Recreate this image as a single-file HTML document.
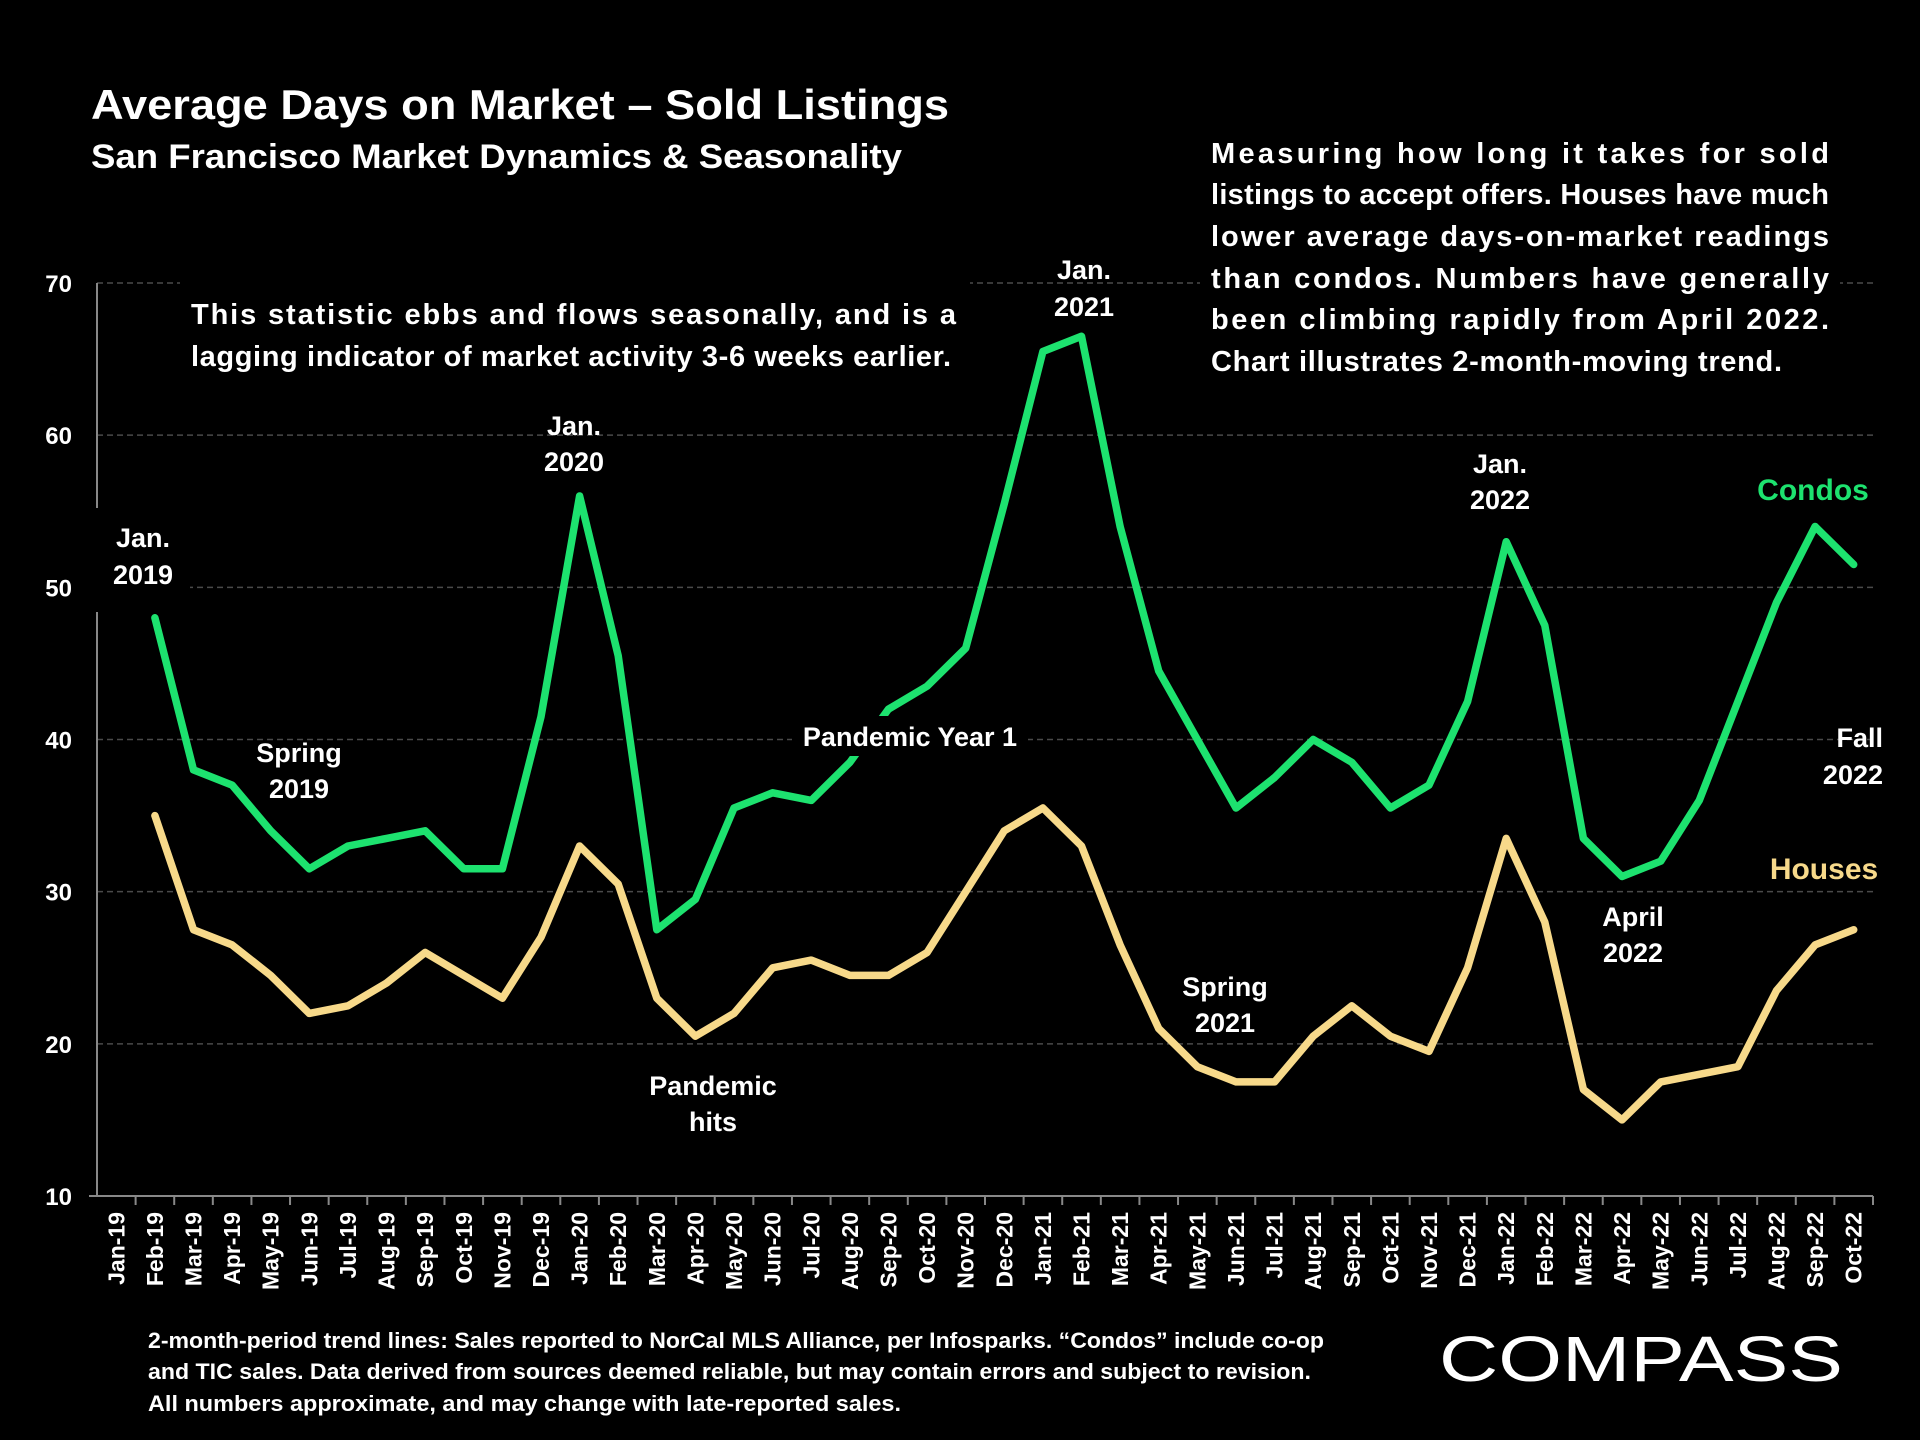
<!DOCTYPE html>
<html><head><meta charset="utf-8"><style>
html,body{margin:0;padding:0;background:#000;}
svg{display:block;}
text{font-family:"Liberation Sans",sans-serif;font-weight:bold;fill:#fff;}
</style></head><body>
<svg id="chart" width="1920" height="1440" viewBox="0 0 1920 1440">
<rect x="0" y="0" width="1920" height="1440" fill="#000"/>
<text x="91" y="119" font-size="42" textLength="858" lengthAdjust="spacingAndGlyphs">Average Days on Market – Sold Listings</text>
<text x="91" y="168" font-size="34" textLength="811" lengthAdjust="spacingAndGlyphs">San Francisco Market Dynamics &amp; Seasonality</text>
<g id="grid"></g>
<g id="axes"></g>
<g id="series"></g>
<rect x="1200" y="270" width="640" height="40" fill="#000"/>
<rect x="180" y="270" width="790" height="40" fill="#000"/>
<g font-size="29">
<text x="1211" y="163" textLength="618" lengthAdjust="spacing">Measuring how long it takes for sold</text>
<text x="1211" y="204" textLength="618" lengthAdjust="spacing">listings to accept offers. Houses have much</text>
<text x="1211" y="246" textLength="618" lengthAdjust="spacing">lower average days-on-market readings</text>
<text x="1211" y="288" textLength="618" lengthAdjust="spacing">than condos. Numbers have generally</text>
<text x="1211" y="329" textLength="618" lengthAdjust="spacing">been climbing rapidly from April 2022.</text>
<text x="1211" y="371" textLength="571" lengthAdjust="spacing">Chart illustrates 2-month-moving trend.</text>
</g>
<g font-size="29">
<text x="191" y="324" textLength="765" lengthAdjust="spacing">This statistic ebbs and flows seasonally, and is a</text>
<text x="191" y="366" textLength="760" lengthAdjust="spacing">lagging indicator of market activity 3-6 weeks earlier.</text>
</g>
<g id="annotations" font-size="27" text-anchor="middle">
<rect x="90" y="508" width="100" height="104" fill="#000"/>
<text x="143" y="547">Jan.<tspan x="143" dy="37">2019</tspan></text>
<text x="299" y="762">Spring<tspan x="299" dy="36">2019</tspan></text>
<text x="574" y="435">Jan.<tspan x="574" dy="36">2020</tspan></text>
<text x="713" y="1095">Pandemic<tspan x="713" dy="36">hits</tspan></text>
<text x="1084" y="279">Jan.<tspan x="1084" dy="37">2021</tspan></text>
<text x="1225" y="996">Spring<tspan x="1225" dy="36">2021</tspan></text>
<text x="1500" y="473">Jan.<tspan x="1500" dy="36">2022</tspan></text>
<text x="1633" y="926">April<tspan x="1633" dy="36">2022</tspan></text>
<text x="1883" y="747" text-anchor="end">Fall<tspan x="1883" dy="37">2022</tspan></text>
<text x="1813" y="500" font-size="30" style="fill:#1de26f">Condos</text>
<text x="1824" y="879" font-size="30" style="fill:#f7d98a">Houses</text>
</g>
<g font-size="22">
<text x="148" y="1348" textLength="1176" lengthAdjust="spacingAndGlyphs">2-month-period trend lines: Sales reported to NorCal MLS Alliance, per Infosparks. “Condos” include co-op</text>
<text x="148" y="1379" textLength="1163" lengthAdjust="spacingAndGlyphs">and TIC sales. Data derived from sources deemed reliable, but may contain errors and subject to revision.</text>
<text x="148" y="1411" textLength="753" lengthAdjust="spacingAndGlyphs">All numbers approximate, and may change with late-reported sales.</text>
</g>
<text x="1439" y="1381" font-size="64" style="font-weight:normal" textLength="404" lengthAdjust="spacingAndGlyphs">COMPASS</text>
</svg>
<script>
const months = ["Jan","Feb","Mar","Apr","May","Jun","Jul","Aug","Sep","Oct","Nov","Dec"];
const categories = [];
for (let y = 19; y <= 22; y++) for (let m = 0; m < 12; m++) { if (y === 22 && m > 9) break; categories.push(months[m] + "-" + y); }
const yTicks = [10,20,30,40,50,60,70];
const condos = [null,48,38,37,34,31.5,33,33.5,34,31.5,31.5,41.5,56,45.5,27.5,29.5,35.5,36.5,36,38.5,42,43.5,46,55.5,65.5,66.5,54,44.5,40,35.5,37.5,40,38.5,35.5,37,42.5,53,47.5,33.5,31,32,36,42.5,49,54,51.5];
const houses = [null,35,27.5,26.5,24.5,22,22.5,24,26,24.5,23,27,33,30.5,23,20.5,22,25,25.5,24.5,24.5,26,30,34,35.5,33,26.5,21,18.5,17.5,17.5,20.5,22.5,20.5,19.5,25,33.5,28,17,15,17.5,18,18.5,23.5,26.5,27.5];

const NS = "http://www.w3.org/2000/svg";
const pL = 97, pR = 1873, pT = 283, pB = 1196, yMin = 10, yMax = 70;
const bw = (pR - pL) / categories.length;
const xs = i => pL + bw * (i + 0.5);
const ys = v => pB - (v - yMin) / (yMax - yMin) * (pB - pT);
function mk(tag, attrs, parent) { const e = document.createElementNS(NS, tag); for (const k in attrs) e.setAttribute(k, attrs[k]); parent.appendChild(e); return e; }
const grid = document.getElementById("grid"), axes = document.getElementById("axes"), series = document.getElementById("series");
yTicks.forEach(v => {
  if (v > yMin) {
    const g = mk("line", {x1:pL, x2:pR, y1:ys(v), y2:ys(v), stroke:"#4a4a4a", "stroke-width":1.5, "stroke-dasharray":"6,4"}, grid);
    
    
  }
  const t = mk("text", {x:72, y:ys(v)+9, "font-size":24, "text-anchor":"end"}, axes);
  t.textContent = v;
  
  
});
const ya = mk("line", {x1:pL, x2:pL, y1:pT, y2:pB, stroke:"#888", "stroke-width":2}, axes);


const xa = mk("line", {x1:pL-8, x2:pR, y1:pB, y2:pB, stroke:"#888", "stroke-width":2}, axes);


categories.forEach((c, i) => {
  const tk = mk("line", {x1:pL+bw*(i+1), x2:pL+bw*(i+1), y1:pB, y2:pB+9, stroke:"#888", "stroke-width":2}, axes);
  
  
  const t = mk("text", {x:0, y:0, "font-size":23, "text-anchor":"end", transform:`translate(${xs(i)+8},1212) rotate(-90)`}, axes);
  t.textContent = c;
  
  
});
function drawLine(data, color, name) {
  let d = "";
  data.forEach((v, i) => { if (v == null) return; d += (d ? "L" : "M") + xs(i).toFixed(1) + "," + ys(v).toFixed(1); });
  const p = mk("path", {d, fill:"none", stroke:color, "stroke-width":7.5, "stroke-linejoin":"round", "stroke-linecap":"round"}, series);
  
  
}
drawLine(houses, "#f7d98a", "houses-line");
drawLine(condos, "#1de26f", "condos-line");
const ann = document.getElementById("annotations");
const bg = mk("rect", {x:792, y:716, width:236, height:40, fill:"#000"}, ann);


const py = mk("text", {x:910, y:746}, ann);
py.textContent = "Pandemic Year 1";


</script>
</body></html>
